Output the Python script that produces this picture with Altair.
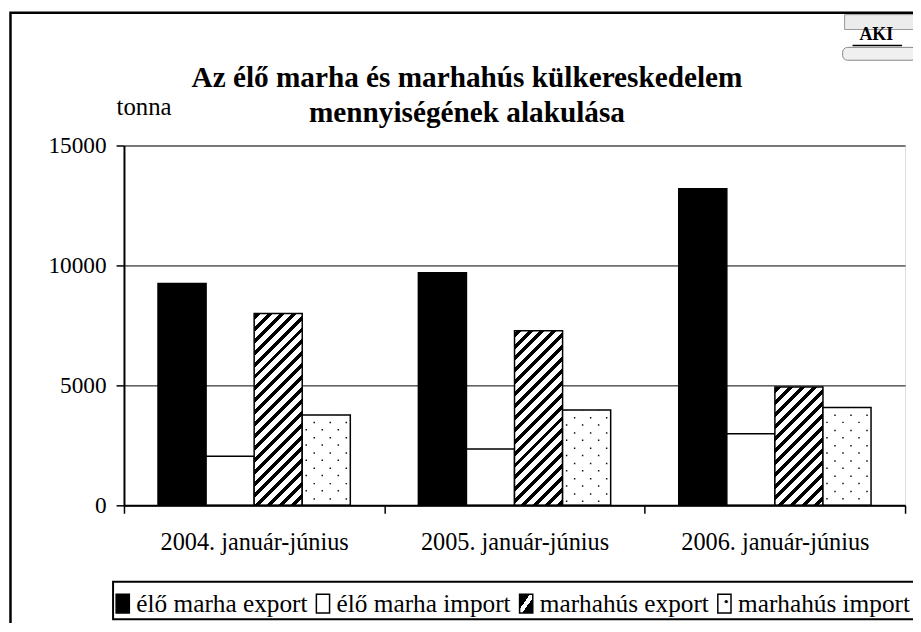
import altair as alt
import pandas as pd

# ---- data ----
categories = ["2004. január-június", "2005. január-június", "2006. január-június"]
series = ["élő marha export", "élő marha import", "marhahús export", "marhahús import"]
elo_export = [9250, 9700, 13200]
elo_import = [2050, 2350, 2980]
hus_export = [8000, 7280, 4930]
hus_import = [3770, 3970, 4080]
y_ticks = [0, 5000, 10000, 15000]
title_lines = ["Az élő marha és marhahús külkereskedelem", "mennyiségének alakulása"]
y_title = "tonna"
logo_text = "AKI"

# ---- layout / style ----
W, H = 788, 363
YMAX = 15000
FONT = "Liberation Serif"
BAR_W = 48.5
step = W / len(categories)
po_series = (step / BAR_W - len(series)) / 2
N_COLS = 6
slots = [f"s{k:02d}" for k in range(len(series) * N_COLS)]
po_total = (step / (BAR_W / N_COLS) - len(slots)) / 2
n_pad = int(po_total)
slot_domain = [f"a{k}" for k in range(n_pad)] + slots + [f"z{k}" for k in range(n_pad)]
po_slots = po_total - n_pad

rows = []
for i, c in enumerate(categories):
    for s, vals in zip(series, [elo_export, elo_import, hus_export, hus_import]):
        rows.append({"cat": c, "series": s, "value": vals[i]})
df = pd.DataFrame(rows)

dot_rows = []
for i, c in enumerate(categories):
    for j in range(N_COLS):
        dot_rows.append({"cat": c, "slot": slots[3 * N_COLS + j], "value": hus_import[i], "parity": j % 2})
dots_df = pd.DataFrame(dot_rows)


def hatch_gradient(w, h, period=12.0, black=5.0, phase=2.0):
    L = w + h
    r = h / w
    a = (1 + r) / (1 + r * r)
    b = a * r
    stops = [{"offset": 0, "color": "white"}]
    s = phase - period
    while s < L:
        t0 = max(0.0, s / L)
        t1 = min(1.0, (s + black) / L)
        if t1 > 0 and t0 < 1:
            stops += [
                {"offset": round(t0, 5), "color": "white"},
                {"offset": round(t0, 5), "color": "black"},
                {"offset": round(t1, 5), "color": "black"},
                {"offset": round(t1, 5), "color": "white"},
            ]
        s += period
    stops.append({"offset": 1, "color": "white"})
    return {"gradient": "linear", "x1": 0, "y1": 0, "x2": round(a, 5), "y2": round(b, 5), "stops": stops}


hatch_legend = ("({gradient: 'linear', x1: 0, y1: 0, x2: 1, y2: 1, stops: ["
                "{offset: 0, color: 'black'}, {offset: 0.4, color: 'black'}, "
                "{offset: 0.4, color: 'white'}, {offset: 0.6, color: 'white'}, "
                "{offset: 0.6, color: 'black'}, {offset: 1, color: 'black'}]})")
dot_legend = ("({gradient: 'radial', x1: 0.6, y1: 0.4, r1: 0, x2: 0.6, y2: 0.4, r2: 0.5, stops: ["
              "{offset: 0, color: 'black'}, {offset: 0.14, color: 'black'}, "
              "{offset: 0.2, color: 'white'}, {offset: 1, color: 'white'}]})")

x_enc = alt.X(
    "cat:N", sort=categories,
    scale=alt.Scale(domain=categories, paddingInner=0, paddingOuter=0),
    axis=alt.Axis(title=None, labelFont=FONT, labelFontSize=24.5, labelColor="black",
                  labelAngle=0, labelPadding=18, labelLimit=0, tickBand="extent",
                  ticks=True, tickSize=8, tickColor="black", tickWidth=1.5,
                  domainColor="black", domainWidth=2, grid=False, zindex=1),
)
y_enc = alt.Y(
    "value:Q",
    scale=alt.Scale(domain=[0, YMAX], nice=False),
    axis=alt.Axis(title=y_title, titleX=-8, titleY=-39, titleAngle=0, titleAlign="left",
                  titleBaseline="middle", titleFont=FONT, titleFontSize=25,
                  titleFontWeight="normal", titleColor="black",
                  values=y_ticks, format="d", labelFont=FONT, labelFontSize=23.5,
                  labelColor="black", labelPadding=10, tickSize=8, tickColor="black",
                  tickWidth=1.5, domainColor="black", domainWidth=2, grid=True,
                  gridColor="black", gridWidth=1, zindex=0),
)
xo_series = alt.XOffset("series:N", sort=series,
                        scale=alt.Scale(domain=series, paddingInner=0, paddingOuter=po_series))
xo_slots = alt.XOffset("slot:N", sort=slot_domain,
                       scale=alt.Scale(domain=slot_domain, paddingInner=0, paddingOuter=po_slots))

base = alt.Chart(df)

solid = base.transform_filter(
    alt.FieldOneOfPredicate(field="series", oneOf=series[:2])
).mark_bar(stroke="black", strokeWidth=1.5).encode(
    x=x_enc, xOffset=xo_series, y=y_enc,
    fill=alt.Fill("series:N", sort=series,
                  scale=alt.Scale(domain=series,
                                  range=["black", "white", {"expr": hatch_legend}, {"expr": dot_legend}]),
                  legend=alt.Legend(orient="none", legendX=-14, legendY=449, direction="horizontal",
                                    title=None, symbolType="M-0.7,-1H0.7V1H-0.7Z", symbolSize=361,
                                    symbolStrokeColor="black", symbolStrokeWidth=1.5,
                                    symbolOpacity=1, labelFont=FONT, labelFontSize=25.5,
                                    labelColor="black", labelOffset=1, columnPadding=2,
                                    padding=0, labelLimit=0)),
)

layers = [solid]
for i, c in enumerate(categories):
    h = hus_export[i] / YMAX * H
    layers.append(
        base.transform_filter(
            (alt.datum.series == series[2]) & (alt.datum.cat == c)
        ).mark_bar(fill=hatch_gradient(BAR_W, h), stroke="black", strokeWidth=1.5).encode(
            x=x_enc, xOffset=xo_series, y=y_enc)
    )

layers.append(
    base.transform_filter(alt.datum.series == series[3]).mark_bar(
        fill="white", stroke="black", strokeWidth=1.5).encode(x=x_enc, xOffset=xo_series, y=y_enc)
)

DASH = [1.5, 13.9]
PER = sum(DASH)
for parity, first in [(0, 14.3), (1, 7.0)]:
    layers.append(
        alt.Chart(dots_df).transform_filter(alt.datum.parity == parity).mark_rule(
            stroke="#111", strokeWidth=1.5, strokeDash=DASH,
            strokeDashOffset=round((PER - first) % PER, 2), strokeCap="butt"
        ).encode(x=x_enc, xOffset=xo_slots, y=y_enc, y2=alt.datum(0))
    )

one = alt.Data(values=[{"t": logo_text}])
# chart title (two lines)
layers.append(alt.Chart(one).mark_text(
    text=title_lines, font=FONT, fontSize=29.5, fontWeight="bold", color="black",
    align="center", baseline="alphabetic", lineHeight=35
).encode(x=alt.value(346), y=alt.value(-59)))
# outer chart frame
layers.append(alt.Chart(one).mark_rect(filled=False, stroke="black", strokeWidth=2.5).encode(
    x=alt.value(-114.5), x2=alt.value(805), y=alt.value(-134), y2=alt.value(500)))
# legend box
layers.append(alt.Chart(one).mark_rect(filled=False, stroke="black", strokeWidth=2).encode(
    x=alt.value(-11), x2=alt.value(805), y=alt.value(440), y2=alt.value(478)))
# logo
layers.append(alt.Chart(one).mark_rect(fill="#ececec", stroke="#999", strokeWidth=1).encode(
    x=alt.value(727), x2=alt.value(800), y=alt.value(-132), y2=alt.value(-117)))
layers.append(alt.Chart(one).mark_text(font=FONT, fontSize=18, fontWeight="bold", color="black",
                                      align="center", baseline="middle").encode(
    text="t:N", x=alt.value(759), y=alt.value(-111)))
layers.append(alt.Chart(one).mark_rule(stroke="black", strokeWidth=1.5).encode(
    x=alt.value(735), x2=alt.value(785), y=alt.value(-101)))
layers.append(alt.Chart(one).mark_rect(fill="#f0f0f0", stroke="#888", strokeWidth=1,
                                      cornerRadius=5).encode(
    x=alt.value(725), x2=alt.value(800), y=alt.value(-99), y2=alt.value(-86)))

chart = alt.layer(*layers).resolve_scale(xOffset="independent").properties(
    width=W, height=H,
    padding={"left": 117, "top": 136, "right": 8, "bottom": 116},
    autosize=alt.AutoSizeParams(type="none"),
).configure_view(stroke="black", strokeWidth=1.5).configure(background="white")

chart.save("out.html", embed_options={"renderer": "svg", "actions": False})
